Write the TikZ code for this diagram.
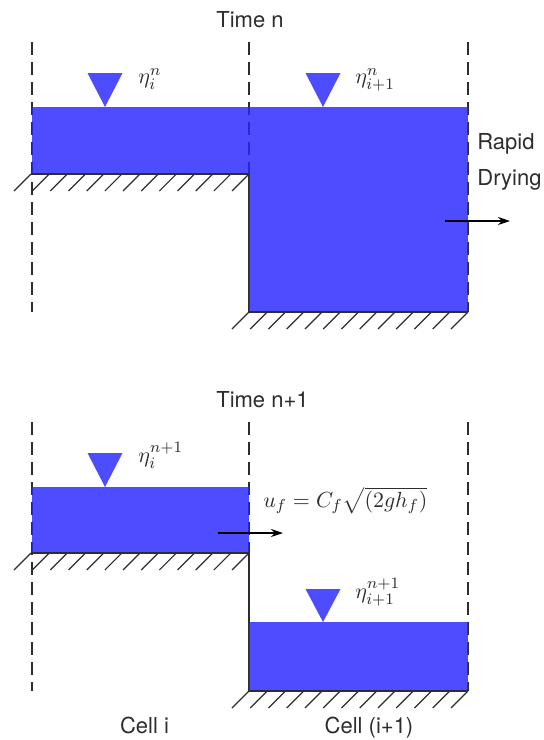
\documentclass[tikz,border=0pt]{standalone}
\usepackage{amsmath}
\usepackage{fontspec}
\setmainfont{TeX Gyre Heros}
\usepackage{xcolor}
\usepackage{tikz}
\usetikzlibrary{arrows.meta}

\definecolor{waterblue}{RGB}{38,38,255}
\definecolor{inkgray}{RGB}{45,45,45}

\begin{document}
\begin{tikzpicture}[x=0.5pt,y=-0.5pt,>={Stealth[length=6pt,width=4pt]},
  cellline/.style={inkgray,line width=0.75pt,dash pattern=on 6.5pt off 3.5pt},
  water/.style={fill=waterblue,fill opacity=0.82},
  wall/.style={inkgray,line width=0.6pt},
  hatch/.style={inkgray,line width=0.6pt},
  flow/.style={->,black,line width=0.9pt},
  lbl/.style={font=\fontsize{11}{13}\selectfont,text=inkgray,inner sep=0pt},
  eta/.style={font=\fontsize{11}{13}\selectfont,text=inkgray,inner sep=0pt,anchor=base west}]
  \useasboundingbox (0,0) rectangle (543,740);

  % time n
  \node[lbl,anchor=base] (tn) at (250,27) {Time n};
  \draw[cellline] (32,42) -- (32,312);
  \draw[cellline] (249,42) -- (249,174);
  \draw[cellline] (468,42) -- (468,312);
  \draw[wall] (249,174) -- (249,312);
  \fill[water] (32,107) rectangle (249,174);
  \fill[water] (249,107) rectangle (468,312);
  \draw[hatch] (32,174) -- (249,174);
  \foreach \k in {0,...,12} \draw[hatch] ({31+18.17*\k},174) -- ++(-17,17);
  \draw[hatch] (249,312) -- (468,312);
  \foreach \k in {0,...,12} \draw[hatch] ({249+18.25*\k},312) -- ++(-17,17);
  \fill[water] (87.5,73) -- (122.5,73) -- (105,107) -- cycle;
  \fill[water] (305.5,73) -- (340.5,73) -- (323,107) -- cycle;
  \node[eta] (etai) at (138,83) {$\eta_i^n$};
  \node[eta] (etaj) at (355,83) {$\eta_{i+1}^n$};
  \node[lbl,anchor=base west] (rapid) at (477,149) {Rapid};
  \node[lbl,anchor=base west] (drying) at (477,185) {Drying};
  \coordinate (dryA) at (445,221);
  \coordinate (dryB) at (510,221);
  \draw[flow] (dryA) -- (dryB);

  % time n+1
  \node[lbl,anchor=base] (tnn) at (262.5,407) {Time n+1};
  \draw[cellline] (32,422) -- (32,691);
  \draw[cellline] (249,422) -- (249,553);
  \draw[cellline] (468,422) -- (468,691);
  \draw[wall] (249,553) -- (249,691);
  \fill[water] (32,487) rectangle (249,553);
  \fill[water] (249,622) rectangle (468,691);
  \draw[hatch] (32,553) -- (249,553);
  \foreach \k in {0,...,12} \draw[hatch] ({31+18.17*\k},553) -- ++(-17,17);
  \draw[hatch] (249,691) -- (468,691);
  \foreach \k in {0,...,12} \draw[hatch] ({249+18.25*\k},691) -- ++(-17,17);
  \fill[water] (87.5,453) -- (122.5,453) -- (105,487) -- cycle;
  \fill[water] (305.5,589) -- (340.5,589) -- (323,622) -- cycle;
  \node[eta] (etaii) at (138,462) {$\eta_i^{n+1}$};
  \node[eta] (etajj) at (355,598) {$\eta_{i+1}^{n+1}$};
  \node[eta] (uf) at (263,507) {$u_f = C_f\sqrt{(2gh_f)}$};
  \coordinate (fluxA) at (218,533);
  \coordinate (fluxB) at (283,533);
  \draw[flow] (fluxA) -- (fluxB);

  \node[lbl,anchor=base] (celli) at (144.5,733) {Cell i};
  \node[lbl,anchor=base] (cellj) at (369,733) {Cell (i+1)};
\end{tikzpicture}
\end{document}
